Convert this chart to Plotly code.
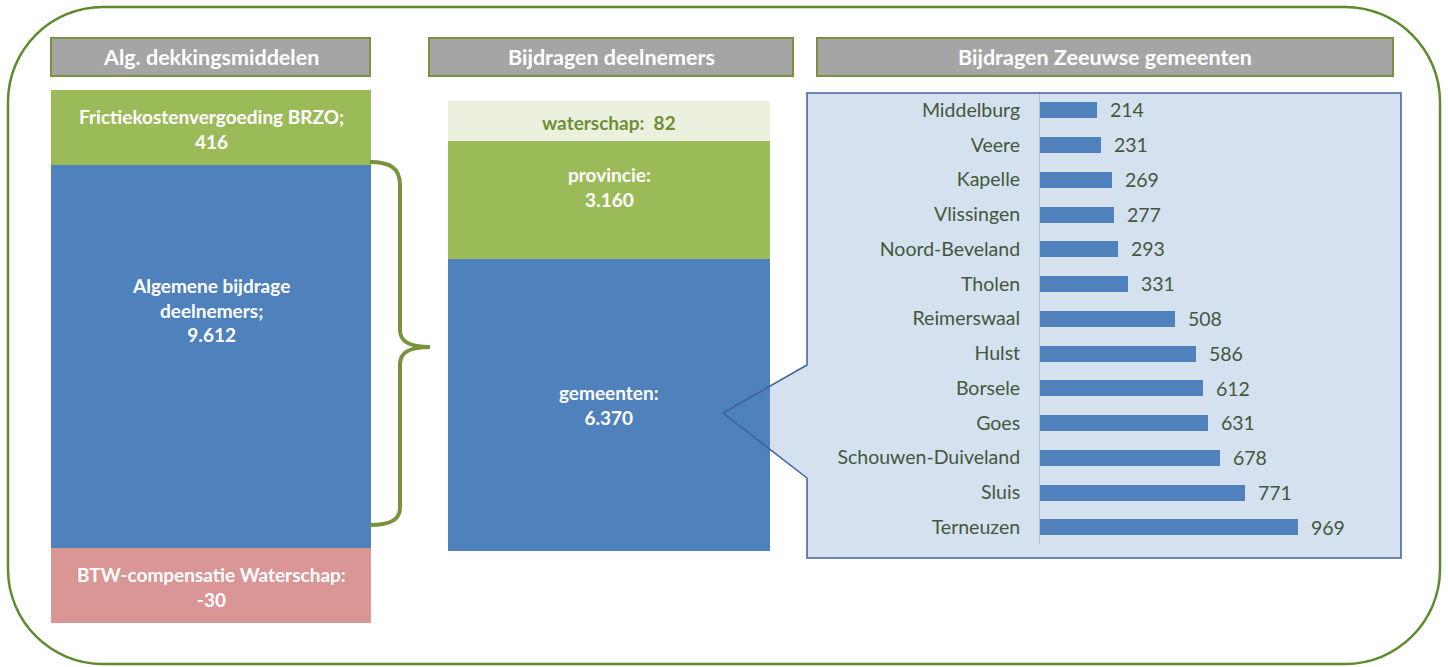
import plotly.graph_objects as go

# ---- data ----
headers = ["Alg. dekkingsmiddelen", "Bijdragen deelnemers", "Bijdragen Zeeuwse gemeenten"]

dekking_labels = ["Frictiekostenvergoeding BRZO;", "Algemene bijdrage<br>deelnemers;",
                  "BTW-compensatie Waterschap:"]
dekking_values = [416, 9612, -30]

deelnemer_labels = ["waterschap:", "provincie:", "gemeenten:"]
deelnemer_values = [82, 3160, 6370]

gemeenten = ["Middelburg", "Veere", "Kapelle", "Vlissingen", "Noord-Beveland", "Tholen",
             "Reimerswaal", "Hulst", "Borsele", "Goes", "Schouwen-Duiveland", "Sluis", "Terneuzen"]
gemeente_values = [214, 231, 269, 277, 293, 331, 508, 586, 612, 631, 678, 771, 969]

# ---- layout (pixels) ----
W, H = 1448, 667
FONT = "Lato"
GREEN = "#9bbb59"
BLUE = "#4f81bd"
PINK = "#d99694"
PALE = "#ebf1de"
DARKGREEN = "#77933c"
LABEL = "#44573d"

header_x = [(51, 370), (429, 793), (817, 1393)]
header_y = (38, 76)

left_x = (51, 371)
left_tops = [90, 165, 548]
left_heights = [75, 383, 75]
left_text_y = [129, 310, 587]
left_colors = [GREEN, BLUE, PINK]

mid_x = (448, 770)
mid_tops = [101, 141, 259]
mid_heights = [40, 118, 292]
mid_text_y = [122, 187, 405]
mid_colors = [PALE, GREEN, BLUE]


def nl(v):
    return f"{v:,}".replace(",", ".")


def P(x, y):
    return f"{x / W:.5f},{1 - y / H:.5f}"


def path(cmds):
    out = []
    for c in cmds:
        if isinstance(c, str):
            out.append(c)
        else:
            out.append(P(*c))
    return " ".join(out)


fig = go.Figure()

# block columns
fig.add_trace(go.Bar(
    x=[(left_x[0] + left_x[1]) / 2] * 3, y=left_heights, base=left_tops,
    width=[left_x[1] - left_x[0]] * 3, marker=dict(color=left_colors, line_width=0),
    hoverinfo="skip", xaxis="x", yaxis="y", showlegend=False))
fig.add_trace(go.Bar(
    x=[(mid_x[0] + mid_x[1]) / 2] * 3, y=mid_heights, base=mid_tops,
    width=[mid_x[1] - mid_x[0]] * 3, marker=dict(color=mid_colors, line_width=0),
    hoverinfo="skip", xaxis="x", yaxis="y", showlegend=False))

# gemeenten bar chart
fig.add_trace(go.Bar(
    x=gemeente_values, y=gemeenten, orientation="h", width=0.46,
    marker=dict(color=BLUE, line_width=0), xaxis="x2", yaxis="y2",
    hoverinfo="skip", showlegend=False))

shapes = []
annotations = []

# outer rounded frame
x0, x1, y0, y1, r = 8, 1440, 7, 664, 95
k = 0.5523 * r
shapes.append(dict(type="path", xref="paper", yref="paper", layer="below",
                   line=dict(color="#5f8b2f", width=2.5),
                   path=path(["M", (x0 + r, y0), "L", (x1 - r, y0),
                              "C", (x1 - r + k, y0), (x1, y0 + r - k), (x1, y0 + r),
                              "L", (x1, y1 - r),
                              "C", (x1, y1 - r + k), (x1 - r + k, y1), (x1 - r, y1),
                              "L", (x0 + r, y1),
                              "C", (x0 + r - k, y1), (x0, y1 - r + k), (x0, y1 - r),
                              "L", (x0, y0 + r),
                              "C", (x0, y0 + r - k), (x0 + r - k, y0), (x0 + r, y0), "Z"])))

# headers
for (hx0, hx1), txt in zip(header_x, headers):
    shapes.append(dict(type="rect", xref="paper", yref="paper", layer="below",
                       x0=hx0 / W, x1=hx1 / W, y0=1 - header_y[1] / H, y1=1 - header_y[0] / H,
                       fillcolor="#a5a5a5", line=dict(color=DARKGREEN, width=2)))
    annotations.append(dict(xref="paper", yref="paper", x=(hx0 + hx1) / 2 / W,
                            y=1 - (header_y[0] + header_y[1]) / 2 / H, text=f"<b>{txt}</b>",
                            xanchor="center", yanchor="middle", showarrow=False,
                            font=dict(family=FONT, size=21.5, color="white")))

# callout panel
callout = ["M", (807, 93), "L", (1401, 93), "L", (1401, 558), "L", (807, 558),
           "L", (807, 478), "L", (723, 413), "L", (807, 365), "Z"]
shapes.append(dict(type="path", xref="paper", yref="paper", layer="below",
                   path=path(callout), fillcolor="#d5e1ef", line=dict(width=0)))
shapes.append(dict(type="path", xref="paper", yref="paper", layer="above",
                   path=path(callout), fillcolor="rgba(0,0,0,0)",
                   line=dict(color="#3d6398", width=1.5)))

# brace
shapes.append(dict(type="path", xref="paper", yref="paper", layer="above",
                   line=dict(color=DARKGREEN, width=4),
                   path=path(["M", (370, 162), "C", (390, 162), (400, 168), (400, 185),
                              "L", (400, 330), "C", (400, 342), (410, 347), (430, 347),
                              "C", (410, 347), (400, 352), (400, 364),
                              "L", (400, 508), "C", (400, 520), (390, 525), (370, 525)])))

# block labels
for lab, val, ty in zip(dekking_labels, dekking_values, left_text_y):
    annotations.append(dict(xref="x", yref="y", x=(left_x[0] + left_x[1]) / 2, y=ty,
                            text=f"<b>{lab}<br>{nl(val)}</b>", showarrow=False,
                            xanchor="center", yanchor="middle",
                            font=dict(family=FONT, size=19, color="white")))
mid_fmt = ["<b>{l}&nbsp; {v}</b>", "<b>{l}<br>{v}</b>", "<b>{l}<br>{v}</b>"]
mid_font = ["#6f8f36", "white", "white"]
for lab, val, ty, f, c in zip(deelnemer_labels, deelnemer_values, mid_text_y, mid_fmt, mid_font):
    annotations.append(dict(xref="x", yref="y", x=(mid_x[0] + mid_x[1]) / 2, y=ty,
                            text=f.format(l=lab, v=nl(val)), showarrow=False,
                            xanchor="center", yanchor="middle",
                            font=dict(family=FONT, size=19, color=c)))

# bar values
for name, val in zip(gemeenten, gemeente_values):
    annotations.append(dict(xref="x2", yref="y2", x=val, y=name, text=str(val),
                            xanchor="left", yanchor="middle", xshift=11, showarrow=False,
                            font=dict(family=FONT, size=19.5, color=LABEL)))

fig.update_layout(
    width=W, height=H, margin=dict(l=0, r=0, t=0, b=0),
    paper_bgcolor="white", plot_bgcolor="rgba(0,0,0,0)",
    barmode="overlay", bargap=0,
    xaxis=dict(domain=[0, 1], range=[0, W], visible=False, fixedrange=True),
    yaxis=dict(domain=[0, 1], range=[H, 0], visible=False, fixedrange=True),
    xaxis2=dict(domain=[1040 / W, 1398 / W], range=[0, 1345], anchor="y2",
                showgrid=False, zeroline=False, showticklabels=False, fixedrange=True),
    yaxis2=dict(domain=[1 - 544.4 / H, 1 - 92.6 / H], anchor="x2", type="category",
                categoryorder="array", categoryarray=gemeenten, autorange="reversed",
                showline=True, linecolor="#b3bfcd", linewidth=1, ticks="",
                ticklabelstandoff=15, showgrid=False, fixedrange=True,
                tickfont=dict(family=FONT, size=19.5, color=LABEL)),
    shapes=shapes, annotations=annotations,
    font=dict(family=FONT),
)

fig.write_html("out.html", config={"displayModeBar": False},
               post_script="document.body.style.margin='0';"
                           "document.documentElement.style.overflow='hidden';")
